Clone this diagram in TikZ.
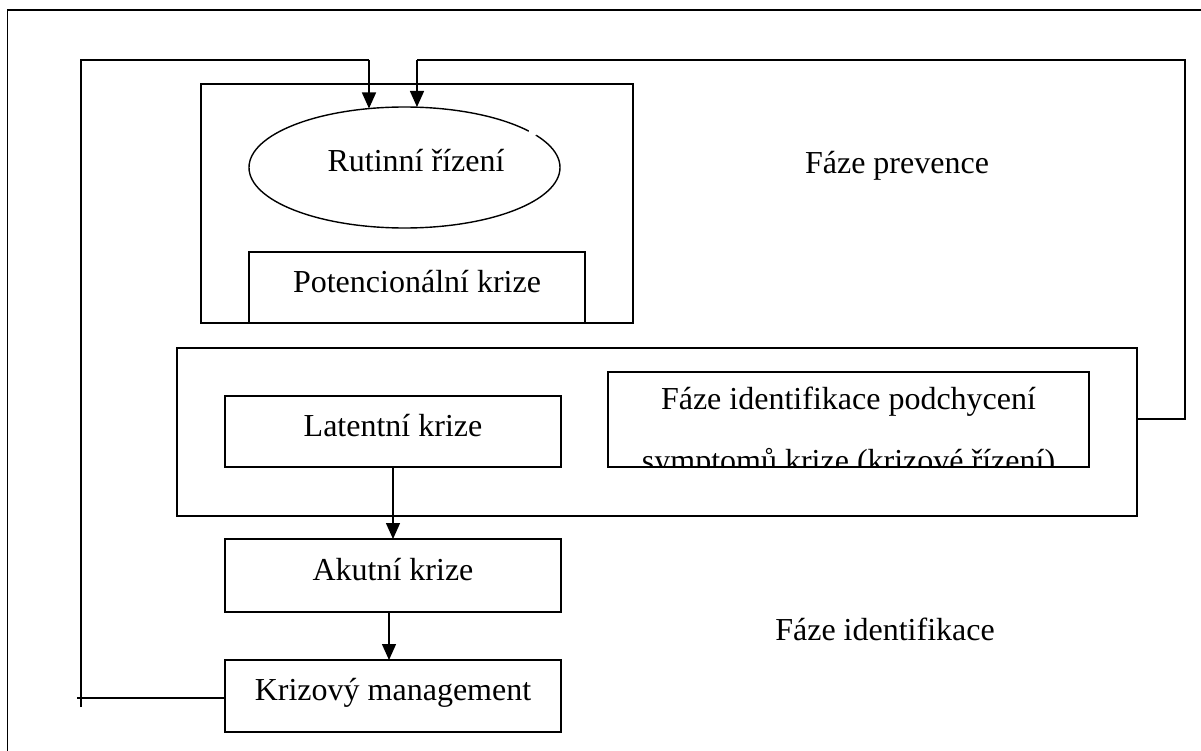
\documentclass[tikz,border=0pt]{standalone}
\usepackage{fontspec}
\setmainfont{Liberation Serif}
\usetikzlibrary{arrows.meta,shapes.geometric}
\begin{document}
\begin{tikzpicture}[x=1pt,y=-1pt,
  every node/.style={inner sep=0pt, outer sep=0pt},
  lw/.style={line width=1.4pt},
  boxnode/.style={draw, lw, rectangle, inner sep=0pt},
  lbl/.style={anchor=base, font=\fontsize{32}{38}\selectfont},
  arr/.style={lw, -{Triangle[length=16pt,width=14pt]}}]
\useasboundingbox (0,0) rectangle (1201,751);
% outer frame (top and left only)
\draw[lw] (1201,10) -- (7.5,10) -- (7.5,751);
% prevention box
\node[boxnode, minimum width=432pt, minimum height=239pt] (prev) at (417,203.5) {};
\node[draw, lw, ellipse, inner sep=0pt, minimum width=311pt, minimum height=121pt] (rut) at (404.5,167.5) {};
\fill[white] (533,132) circle (4.5pt);
\node[lbl] (rutT) at (416,172) {Rutinní řízení};
\node[boxnode, minimum width=336pt, minimum height=71pt] (pot) at (417,287.5) {};
\node[lbl] (potT) at (417,292) {Potencionální krize};
\node[lbl] (prevT) at (897,173.5) {Fáze prevence};
% middle box
\node[boxnode, minimum width=960pt, minimum height=168pt] (mid) at (657,432) {};
\node[boxnode, minimum width=336pt, minimum height=71pt] (lat) at (393,431.5) {};
\node[lbl] (latT) at (393,436) {Latentní krize};
\node[boxnode, minimum width=481pt, minimum height=95pt] (faze) at (848.5,419.5) {};
\begin{scope}
  \clip ([shift={(0.7pt,-0.7pt)}]faze.south west) rectangle ([shift={(-0.7pt,0.7pt)}]faze.north east);
  \node[lbl] (fazeT1) at (848.5,409) {Fáze identifikace podchycení};
  \node[lbl] (fazeT2) at (848.5,471) {symptomů krize (krizové řízení)};
\end{scope}
% lower boxes
\node[boxnode, minimum width=336pt, minimum height=73pt] (aku) at (393,575.5) {};
\node[lbl] (akuT) at (393,580) {Akutní krize};
\node[boxnode, minimum width=336pt, minimum height=72pt] (kri) at (393,696) {};
\node[lbl] (kriT) at (393,700) {Krizový management};
\node[lbl] (identT) at (885,640) {Fáze identifikace};
% arrows down
\draw[arr] (lat.south) -- (aku.north);
\draw[arr] ([xshift=-4pt]aku.south) -- ([xshift=-4pt]kri.north);
% left feedback loop
\coordinate (L1) at (81,707);
\coordinate (L2) at (81,60);
\coordinate (L3) at (369,60);
\coordinate (L4) at (369,108.5);
\coordinate (Lh) at (77,698);
\draw[lw] (kri.west |- Lh) -- (Lh);
\draw[lw] (L1) -- (L2) -- (L3);
\draw[arr] (L3) -- (L4);
% right feedback loop
\coordinate (R1) at (1185,419);
\coordinate (R2) at (1185,60);
\coordinate (R3) at (417,60);
\draw[lw] (mid.east |- R1) -- (R1) -- (R2) -- (R3);
\draw[arr] (R3) -- (rut.north -| R3);
\end{tikzpicture}
\end{document}
